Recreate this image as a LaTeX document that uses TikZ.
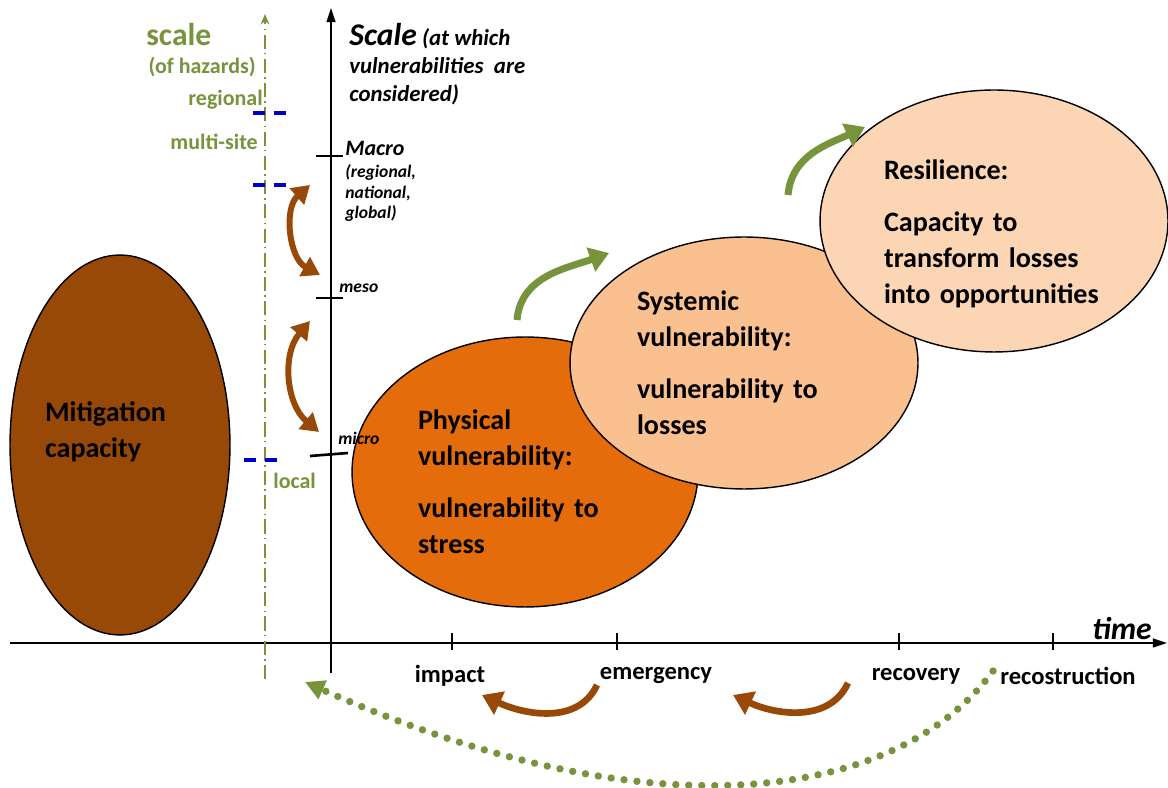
\documentclass[tikz,border=0pt]{standalone}
\usepackage{fontspec}
\setmainfont{Carlito}
\usepackage{tikz}
\usetikzlibrary{shapes.geometric, arrows.meta, positioning}
\definecolor{mitbrown}{HTML}{984807}
\definecolor{physorange}{HTML}{E46C0A}
\definecolor{syspeach}{HTML}{FAC090}
\definecolor{respeach}{HTML}{FCD5B5}
\definecolor{hazgreen}{HTML}{77933C}
\definecolor{dashblue}{HTML}{0000CC}
\tikzstyle{bubble} = [ellipse, draw=black, line width=0.8pt, inner sep=0pt, align=left, font=\fontsize{16}{20.5}\selectfont\bfseries]
\tikzstyle{mainaxis} = [line width=1.1pt, -{Triangle[length=8pt,width=5pt]}]
\tikzstyle{hazaxis} = [hazgreen, line width=1pt, dash pattern=on 8pt off 2.5pt on 0.8pt off 2.5pt, -{Stealth[length=6pt,width=5pt]}]
\tikzstyle{scaletick} = [line width=1.5pt]
\tikzstyle{timelabel} = [font=\fontsize{14}{14}\selectfont\bfseries]
\tikzstyle{levellabel} = [anchor=west, inner sep=0pt, font=\fontsize{12.5}{14}\selectfont\bfseries\itshape]
\tikzstyle{sublabel} = [anchor=west, inner sep=0pt, align=left, font=\fontsize{10}{11.4}\selectfont\bfseries\itshape]
\tikzstyle{hazardlabel} = [anchor=east, inner sep=0pt, text=hazgreen, font=\fontsize{12.5}{14}\selectfont\bfseries]
\tikzstyle{bluedash} = [dashblue, line width=2pt, dash pattern=on 6.8pt off 5.1pt]
\tikzstyle{brownswap} = [mitbrown, line width=3.4pt, {Triangle[length=10pt,width=12pt]}-{Triangle[length=10pt,width=12pt]}]
\tikzstyle{brownarrow} = [mitbrown, line width=3.8pt, -{Triangle[length=11pt,width=14pt]}]
\tikzstyle{greenarrow} = [hazgreen, line width=4pt, -{Triangle[length=11pt,width=14pt]}]
\tikzstyle{greendots} = [hazgreen, line width=4.2pt, line cap=round, dash pattern=on 0pt off 7.4pt, -{Triangle[length=11pt,width=11pt]}]

\begin{document}
\begin{tikzpicture}[x=0.02cm, y=0.02cm]
\useasboundingbox (0,0) rectangle (1168,787);

\node (mitigation) [bubble, fill=mitbrown, minimum width=4.4cm, minimum height=7.6cm, text width=3cm, text depth=38pt] at (120,342) {Mitigation\\capacity};
\node (physical) [bubble, fill=physorange, minimum width=6.92cm, minimum height=5.4cm, text width=4.28cm, text height=22pt] at (525,315) {Physical\\vulnerability:\\[9pt]vulnerability to\\stress};
\node (systemic) [bubble, fill=syspeach, minimum width=6.96cm, minimum height=5.04cm, text width=4.28cm] at (744,424) {Systemic\\vulnerability:\\[9pt]vulnerability to\\losses};
\node (resilience) [bubble, fill=respeach, minimum width=6.96cm, minimum height=5.24cm, text width=4.4cm, text height=26pt] at (994,566) {Resilience:\\[9pt]Capacity to\\transform losses\\into opportunities};

\coordinate (timestart) at (10,144);
\coordinate (timeend) at (1167,144);
\coordinate (scalebase) at (331,114);
\coordinate (scaletop) at (331,779);
\coordinate (hazbase) at (265,108);
\coordinate (haztop) at (265,773);
\draw [mainaxis] (timestart) -- (timeend);
\draw [mainaxis] (scalebase) -- (scaletop);
\draw [hazaxis] (hazbase) -- (haztop);

\draw [scaletick] (452,137) -- (452,154);
\draw [scaletick] (617,137) -- (617,154);
\draw [scaletick] (899,137) -- (899,154);
\draw [scaletick] (1053,137) -- (1053,154);
\draw [scaletick] (316,631) -- (343,631);
\draw [scaletick] (316,489) -- (343,489);
\draw [scaletick] (310,331) -- (348,334);

\node (time) [font=\fontsize{18}{18}\selectfont\bfseries\itshape] at (1122,158) {time};
\node (impact) [timelabel] at (450,111) {impact};
\node (emergency) [timelabel] at (656,111) {emergency};
\node (recovery) [timelabel] at (916,111) {recovery};
\node (recostruction) [timelabel] at (1068,111) {recostruction};

\node (scaletitle) [anchor=west, inner sep=0pt, align=left, font=\fontsize{13}{16}\selectfont\bfseries\itshape] at (349,723) {{\fontsize{18}{18}\selectfont Scale} (at which\\vulnerabilities\hspace{3pt} are\\considered)};
\node (macro) [levellabel] at (345,639) {Macro};
\node (macrosub) [sublabel] at (345,594) {(regional,\\national,\\global)};
\node (meso) [sublabel] at (339,499) {meso};
\node (micro) [sublabel] at (338,349) {micro};

\node (hazscale) [hazardlabel, anchor=west, font=\fontsize{18}{18}\selectfont\bfseries] at (146,752) {scale};
\node (ofhazards) [hazardlabel] at (256,720) {(of hazards)};
\node (regional) [hazardlabel] at (263,687) {regional};
\node (multisite) [hazardlabel] at (258,645) {multi-site};
\node (local) [hazardlabel, anchor=west] at (273,306) {local};

\draw [bluedash] (253,674) -- (288,674);
\draw [bluedash] (253,602) -- (288,602);
\draw [bluedash] (244,327) -- (279,327);

\coordinate (macroup) at (310,602);
\coordinate (mesodown) at (320,512);
\coordinate (mesoup) at (310,466);
\coordinate (microdown) at (319,355);
\draw [brownswap] (macroup) to[bend right=55] (mesodown);
\draw [brownswap] (mesoup) to[bend right=45] (microdown);

\coordinate (physout) at (517,467);
\coordinate (sysin) at (609,534);
\coordinate (sysout) at (788,592);
\coordinate (resin) at (865,660);
\draw [greenarrow] (physout) to[out=85, in=200] (sysin);
\draw [greenarrow] (sysout) to[out=85, in=205] (resin);

\coordinate (emergout) at (597,102);
\coordinate (impactin) at (482,92);
\coordinate (recovout) at (848,104);
\coordinate (emergin) at (733,92);
\draw [brownarrow] (emergout) to[out=245, in=-25] (impactin);
\draw [brownarrow] (recovout) to[out=245, in=-25] (emergin);

\coordinate (recostart) at (993,116);
\coordinate (backhome) at (305,105);
\draw [greendots] (recostart) .. controls (905,-5) and (671,-58) .. (backhome);

\end{tikzpicture}
\end{document}
